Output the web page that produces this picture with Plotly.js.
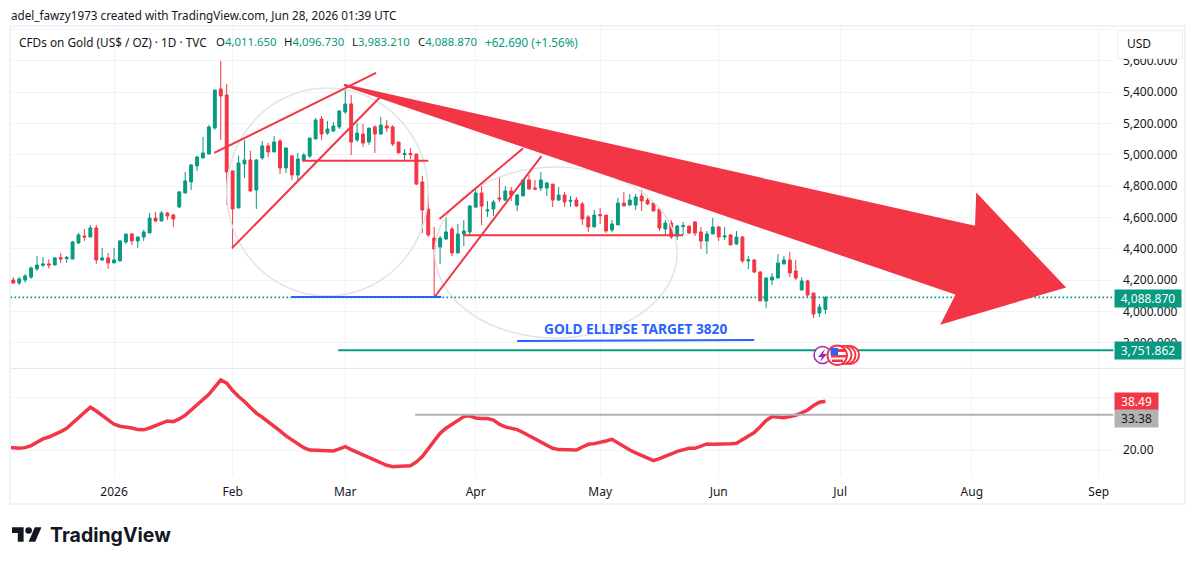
<!DOCTYPE html>
<html>
<head>
<meta charset="utf-8">
<script src="https://cdn.plot.ly/plotly-3.0.1.min.js"></script>
<style>html,body{margin:0;padding:0;background:#fff;overflow:hidden}</style>
</head>
<body>
<div id="chart" style="width:1195px;height:565px"></div>
<script>
// --- DATA (prices) ---
const opens = [4200,4181,4200,4219,4271,4294,4303,4296,4343,4337,4334,4437,4481,4475,4533,4328,4341,4309,4322,4443,4494,4450,4475,4501,4596,4577,4628,4616,4667,4756,4827,4929,4980,5005,5172,5421,5382,4897,4660,4942,4967,4775,4980,5057,5018,5088,4916,4993,4871,
  4967,4992,5101,5229,5139,5152,5178,5274,5325,5095,5133,5082,5178,5133,5184,5178,5082,5001,5009,5005,4826,4654,4468,4411,4462,4526,4373,4494,4507,4666,4756,4641,4654,4724,4711,4769,4679,4737,4839,4788,4788,4788,4813,4711,
  4743,4703,4711,4686,4603,4539,4618,4615,4520,4552,4692,4679,4679,4737,4711,4692,4654,4526,4564,4481,4541,4545,4571,4507,4449,4494,4539,4475,4488,4430,4475,4322,4328,4251,4066,4200,4213,4302,4328,4258,4136,4194,4117,3989,4011.65];
const highs = [4217,4219,4239,4286,4354,4347,4332,4347,4373,4354,4450,4501,4526,4552,4552,4405,4373,4405,4456,4494,4501,4475,4520,4628,4635,4641,4635,4622,4769,4890,4942,4993,5114,5191,5414,5600,5453,4897,4993,5095,5025,4973,5088,5076,5120,5101,5044,4999,5012,
  5012,5107,5235,5248,5216,5210,5286,5427,5382,5203,5197,5171,5190,5242,5222,5190,5082,5037,5043,5005,4865,4737,4539,4481,4603,4539,4558,4583,4679,4788,4801,4705,4711,4858,4801,4794,4750,4845,4871,4839,4890,4826,4813,4794,
  4762,4737,4730,4699,4615,4647,4660,4615,4583,4724,4762,4750,4750,4775,4724,4699,4660,4583,4583,4552,4571,4545,4577,4539,4513,4596,4545,4539,4494,4513,4481,4353,4334,4258,4219,4245,4366,4353,4379,4328,4219,4200,4117,4047,4096.73];
const lows = [4175,4168,4183,4207,4258,4283,4273,4296,4309,4309,4334,4430,4450,4475,4303,4322,4271,4309,4322,4430,4424,4405,4450,4501,4571,4577,4584,4539,4660,4756,4775,4897,4980,5005,5159,5095,4680,4398,4660,4852,4763,4654,4967,4986,5018,4878,4884,4839,4839,
  4960,4980,5101,5095,5127,5146,5165,5261,4999,5082,5050,5063,5012,5127,5146,5056,5012,4967,4973,4807,4500,4475,4098,4302,4456,4353,4373,4417,4481,4660,4551,4603,4609,4698,4705,4705,4641,4737,4781,4775,4769,4737,4666,4705,
  4667,4667,4667,4552,4507,4539,4558,4500,4507,4552,4673,4673,4647,4641,4679,4641,4513,4488,4462,4456,4488,4494,4481,4398,4366,4494,4449,4456,4424,4424,4309,4270,4245,4066,4021,4168,4213,4302,4219,4200,4136,4091,3957,3964,3983.21];
const closes = [4181,4207,4226,4277,4296,4303,4296,4341,4334,4345,4443,4488,4475,4533,4328,4341,4309,4328,4450,4494,4450,4475,4507,4596,4577,4628,4609,4590,4763,4833,4935,4986,5012,5178,5414,5376,4890,4654,4948,4967,4769,4967,5057,5018,5082,4916,5044,4871,4973,
  4999,5107,5222,5133,5165,5184,5280,5325,5082,5139,5075,5171,5133,5190,5171,5069,5012,5009,5001,4813,4647,4488,4398,4468,4507,4373,4494,4513,4673,4756,4673,4647,4698,4718,4769,4743,4743,4839,4781,4781,4839,4820,4711,4743,
  4699,4709,4673,4590,4539,4615,4611,4513,4558,4692,4673,4711,4730,4705,4686,4641,4532,4564,4475,4545,4547,4500,4500,4449,4494,4539,4475,4481,4424,4475,4322,4328,4251,4066,4213,4219,4309,4328,4245,4213,4194,4104,3983,4027,4088.87];
// the line runs on past the first candle, to the pane edge
const rsi = [21.1,21.0,20.75,21.0,21.75,23.0,24.3,25.0,25.9,27.0,28.3,30.3,32.3,34.2,36.2,34.8,33.2,31.3,29.8,29.05,28.8,28.4,27.8,27.7,28.4,29.4,30.2,31.05,30.8,31.8,33.2,35.1,37.1,39.1,41.1,43.8,46.5,45.3,42.5,40.25,38.4,36.1,34.0,32.45,30.8,29.3,27.3,25.4,23.9,22.4,21.0,20.1,20.0,19.9,19.9,19.75,20.5,21.4,20.25,19.25,18.25,17.2,16.35,15.2,14.35,13.8,13.8,14.1,14.2,15.6,17.6,20.4,23.5,26.4,28.3,29.8,31.2,32.7,33.0,32.2,32.0,32.0,31.4,29.8,28.8,28.2,27.8,26.7,25.5,24.3,23.0,21.6,20.75,20.25,20.1,20.1,20.1,21.25,22.25,22.5,22.9,23.5,24.15,22.75,21.4,20.1,19.0,18.0,16.85,16.1,16.85,17.6,18.6,19.6,20.25,20.75,20.75,21.5,22.4,22.25,22.25,22.4,22.5,22.65,23.9,25.3,26.7,28.9,31.2,32.7,32.6,32.3,32.7,33.2,34.1,35.2,36.85,38.1,38.49];
const bars = closes.map((c, i) => i);
const rsiBars = rsi.map((v, i) => i - 1);

const timeTicks = [17, 37, 56, 78, 99, 119, 139.5, 161.7, 183.1];
const timeLabels = ['2026', 'Feb', 'Mar', 'Apr', 'May', 'Jun', 'Jul', 'Aug', 'Sep'];
const priceTicks = [3800, 4000, 4200, 4400, 4600, 4800, 5000, 5200, 5400, 5600, 5800];
const priceLabels = ['3,800.000', '4,000.000', '4,200.000', '4,400.000', '4,600.000', '4,800.000', '5,000.000', '5,200.000', '5,400.000', '5,600.000', ''];
const rsiTicks = [20, 40];
const rsiLabels = ['20.00', ''];

const lastPrice = 4088.87;
const targetPrice = 3751.862;
const rsiAverage = 33.38;

// drawings on the chart, in [bar, price]
const redLines = [
    [[33.9, 5012], [61.2, 5523]],
    [[36.9, 4404], [61.9, 5369]],
    [[48.7, 4962], [70.0, 4962]],
    [[71.1, 4093], [89.1, 4992]],
    [[71.9, 4590], [86.0, 5042]],
    [[75.9, 4486], [113.0, 4486]]
];
const blueLines = [
    [[46.9, 4091], [72.2, 4091]],
    [[85.0, 3810], [125.0, 3817]]
];
const ellipses = [
    [36.0, 70.0, 4098, 5427],
    [71.1, 112.0, 3829, 4922]
];
const bigArrow = [[55.8, 5446], [162.4, 4539], [162.6, 4743], [177.3, 4155], [156.7, 3925], [159.2, 4111]];

// --- COLORS ---
const colors = { up: '#089981', down: '#F23645', blue: '#2962FF', text: '#131722', grid: '#f2f3f6', frame: '#f0f3fa', line: '#e0e3eb', gray: '#b2b2b2', purple: '#9C27B0' };
const font = '"Noto Sans", sans-serif';

// page pixels to paper fractions, margins are zero
const fx = p => p / 1195;
const fy = p => 1 - p / 565;

const shapes = [];
function seg(a, color, width, yref) {
    shapes.push({ type: 'line', xref: 'x', yref: yref || 'y', x0: a[0][0], y0: a[0][1], x1: a[1][0], y1: a[1][1], line: { color: color, width: width } });
}
function pixBox(type, x0, y0, x1, y1, fill, line, width) {
    shapes.push({ type: type, xref: 'paper', yref: 'paper', x0: fx(x0), x1: fx(x1), y0: fy(y0), y1: fy(y1), fillcolor: fill, line: { color: line || fill, width: width === undefined ? 0 : width } });
}
function pixPath(points, fill) {
    const d = points.map((p, i) => (i ? 'L' : 'M') + fx(p[0]) + ',' + fy(p[1])).join(' ') + ' Z';
    shapes.push({ type: 'path', xref: 'paper', yref: 'paper', path: d, fillcolor: fill, line: { width: 0 } });
}

// frame and pane divider
pixBox('rect', 10, 26, 1185, 504, 'rgba(0,0,0,0)', colors.frame, 2);
shapes.push({ type: 'line', xref: 'paper', yref: 'paper', x0: fx(10), x1: fx(1185), y0: fy(368.3), y1: fy(368.3), line: { color: colors.line, width: 1 } });

ellipses.forEach(e => shapes.push({ type: 'circle', xref: 'x', yref: 'y', x0: e[0], x1: e[1], y0: e[2], y1: e[3], line: { color: '#e2e3e6', width: 1.5 } }));
shapes.push({ type: 'line', xref: 'x', yref: 'y', x0: -0.47, x1: 185.6, y0: lastPrice, y1: lastPrice, line: { color: colors.up, width: 1.6, dash: '1.6px,2.4px' } });
redLines.forEach(l => seg(l, colors.down, 2));
blueLines.forEach(l => seg(l, colors.blue, 2));
seg([[54.8, targetPrice], [185.6, targetPrice]], colors.up, 2);
seg([[67.8, rsiAverage], [185.6, rsiAverage]], colors.gray, 2, 'y2');

shapes.push({
    type: 'path', xref: 'x', yref: 'y', fillcolor: colors.down,
    path: bigArrow.map((p, i) => (i ? 'L' : 'M') + p[0] + ',' + p[1]).join(' ') + ' Z',
    line: { color: colors.down, width: 2 }
});

// event markers
pixBox('circle', 814, 346.5, 831, 363.5, '#ffffff', colors.purple, 1.5);
pixPath([[825, 349], [818, 357], [822, 357], [820, 362], [827, 354], [823, 354]], colors.purple);
[850, 846.5, 842.5].forEach(c => pixBox('circle', c - 9, 346, c + 9, 364, '#ffffff', colors.down, 2));
pixBox('circle', 827.5, 345.5, 847, 365, '#ffffff', colors.down, 2);
pixBox('rect', 832, 349, 845, 352, colors.down, colors.down, 0);
pixBox('rect', 831, 355, 846, 357.5, colors.down, colors.down, 0);
pixBox('rect', 832, 359.5, 843, 362, colors.down, colors.down, 0);
pixBox('rect', 830.5, 348, 838, 355, colors.blue, colors.blue, 0);

// TradingView mark
const m = 0.83;
const lx = v => 12 + v * m;
const ly = v => 527.3 + (v - 4) * m * 0.96;
pixPath([[lx(0), ly(4)], [lx(14), ly(4)], [lx(14), ly(22)], [lx(7), ly(22)], [lx(7), ly(11)], [lx(0), ly(11)]], '#131722');
pixPath([[lx(27.5), ly(4)], [lx(35.5), ly(4)], [lx(28), ly(22)], [lx(20), ly(22)]], '#131722');
pixBox('circle', lx(16), ly(4), lx(24), ly(12), '#131722');

// --- ANNOTATIONS ---
const notes = [];
function label(text, x, y, size, color, extra) {
    notes.push(Object.assign({ xref: 'paper', yref: 'paper', x: fx(x), y: fy(y), xanchor: 'left', yanchor: 'middle', text: text, showarrow: false, borderpad: 0, font: { family: font, size: size, color: color } }, extra || {}));
}
function ohlc(letter, value, x) {
    label(letter + '<span style="color:' + colors.up + '">' + value + '</span>', x, 41.5, 11.4, colors.text);
}
label('adel_fawzy1973 created with TradingView.com, Jun 28, 2026 01:39 UTC', 10, 15, 11.7, colors.text);
label('CFDs on Gold (US$ / OZ) · 1D · TVC', 18, 41.5, 11.8, colors.text);
ohlc('O', '4,011.650', 215);
ohlc('H', '4,096.730', 283);
ohlc('L', '3,983.210', 351);
ohlc('C', '4,088.870', 417);
label('+62.690 (+1.56%)', 484, 41.5, 11.7, colors.up);
label('&nbsp;', 1117, 44.5, 12, colors.text, { width: 64, height: 27, bgcolor: '#ffffff', bordercolor: '#eceef2', borderwidth: 1 });
label('USD', 1126, 44, 12, colors.text);

function tag(text, y, width, fill, color) {
    label(text, 1114, y, 12, color, { width: width, height: 17, align: 'center', bgcolor: fill });
}
tag('4,088.870', 298.3, 66, colors.up, '#ffffff');
tag('3,751.862', 350.5, 66, colors.up, '#ffffff');
tag('38.49', 401.5, 43, colors.down, '#ffffff');
tag('33.38', 418.4, 43, colors.gray, colors.text);

notes.push({ xref: 'x', yref: 'y', x: 105.0, y: 3893, text: '<b>GOLD ELLIPSE TARGET 3820</b>', showarrow: false, font: { family: font, size: 13.7, color: colors.blue } });
label('<b>TradingView</b>', 48.5, 535, 19.5, '#131722', { font: { family: 'Inter, sans-serif', size: 19.5, color: '#131722' } });

// --- TRACES ---
const candles = {
    type: 'candlestick', x: bars, open: opens, high: highs, low: lows, close: closes,
    xaxis: 'x', yaxis: 'y', whiskerwidth: 0, hoverinfo: 'skip',
    increasing: { line: { color: colors.up, width: 1 }, fillcolor: colors.up },
    decreasing: { line: { color: colors.down, width: 1 }, fillcolor: colors.down }
};
const rsiLine = {
    type: 'scatter', mode: 'lines', x: rsiBars, y: rsi, xaxis: 'x2', yaxis: 'y2', hoverinfo: 'skip',
    line: { color: colors.down, width: 3.5 }
};

const axisFont = { family: font, size: 12, color: colors.text };
const layout = {
    width: 1195, height: 565,
    margin: { l: 0, r: 0, t: 0, b: 0 },
    paper_bgcolor: '#ffffff', plot_bgcolor: '#ffffff',
    showlegend: false,
    xaxis: {
        domain: [fx(10.5), fx(1113.5)], range: [-0.47, 185.6], anchor: 'y',
        tickmode: 'array', tickvals: timeTicks, ticktext: timeLabels, showticklabels: false, ticks: '',
        showgrid: true, gridcolor: colors.grid, gridwidth: 1, zeroline: false, showline: false,
        rangeslider: { visible: false }
    },
    xaxis2: {
        domain: [fx(10.5), fx(1113.5)], range: [-0.47, 185.6], anchor: 'y2', matches: 'x',
        tickmode: 'array', tickvals: timeTicks, ticktext: timeLabels, tickfont: axisFont,
        ticks: 'outside', ticklen: 4, tickcolor: 'rgba(0,0,0,0)',
        showgrid: true, gridcolor: colors.grid, gridwidth: 1, zeroline: false, showline: false
    },
    yaxis: {
        domain: [fy(368.3), fy(26)], range: [3636, 5823], anchor: 'x', side: 'right',
        tickmode: 'array', tickvals: priceTicks, ticktext: priceLabels, tickfont: axisFont,
        ticks: 'outside', ticklen: 6, tickcolor: 'rgba(0,0,0,0)',
        showgrid: true, gridcolor: colors.grid, gridwidth: 1, zeroline: false, showline: false
    },
    yaxis2: {
        domain: [fy(476.7), fy(368.3)], range: [10.04, 50.9], anchor: 'x2', side: 'right',
        tickmode: 'array', tickvals: rsiTicks, ticktext: rsiLabels, tickfont: axisFont,
        ticks: 'outside', ticklen: 6, tickcolor: 'rgba(0,0,0,0)',
        showgrid: true, gridcolor: colors.grid, gridwidth: 1, zeroline: false, showline: false
    },
    shapes: shapes,
    annotations: notes
};

Plotly.newPlot('chart', [candles, rsiLine], layout, { displayModeBar: false, staticPlot: true });
</script>
</body>
</html>
